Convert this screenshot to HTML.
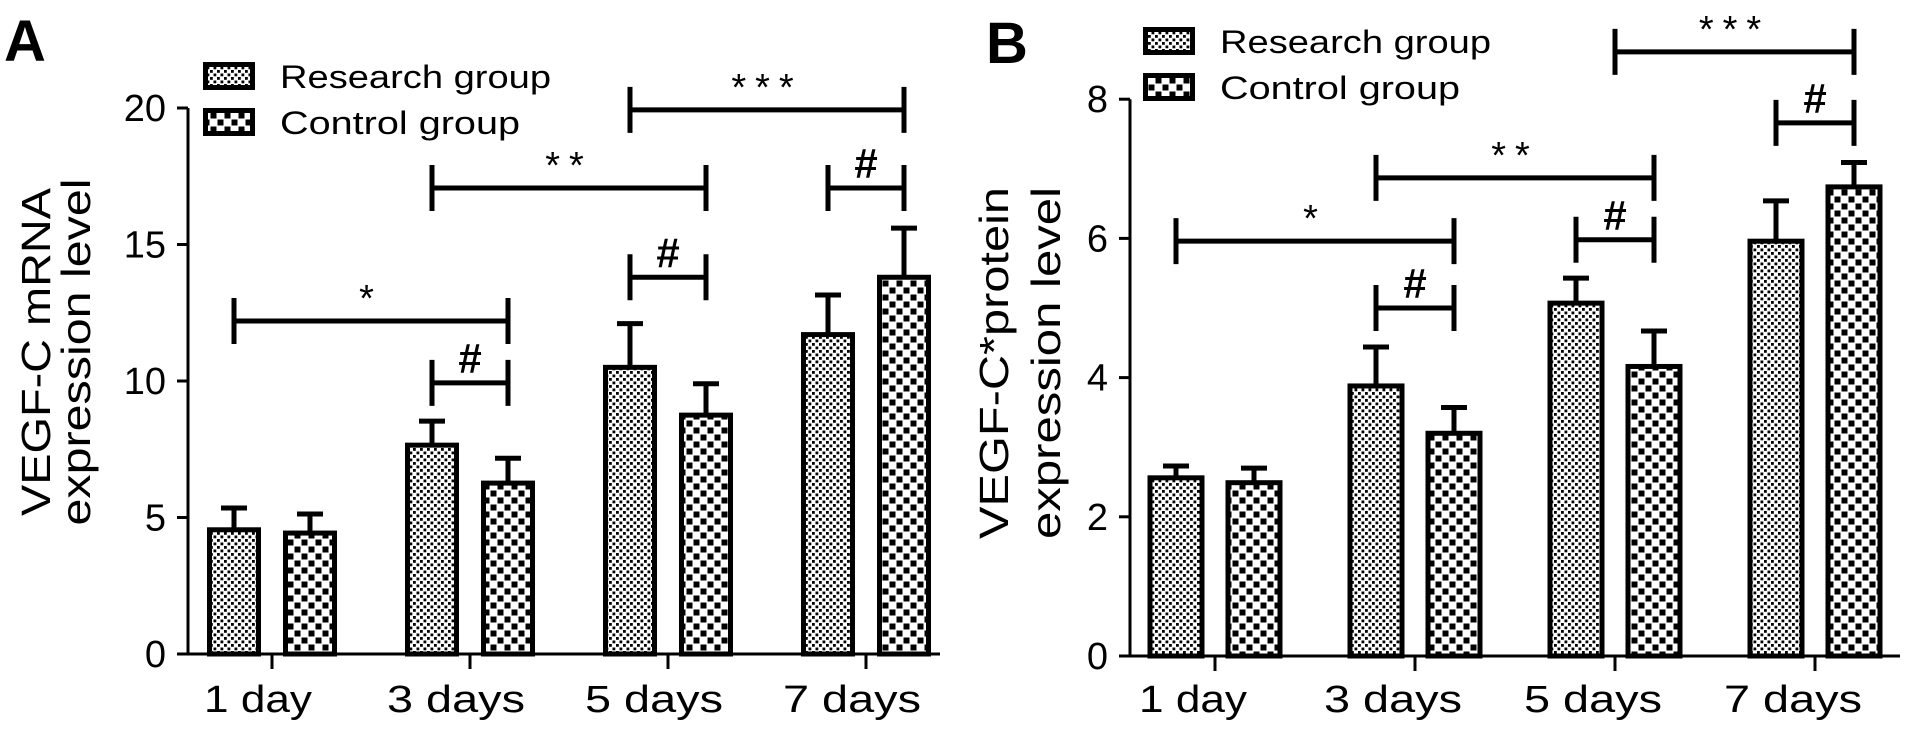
<!DOCTYPE html>
<html><head><meta charset="utf-8"><style>
html,body{margin:0;padding:0;background:#fff;}
svg{display:block;font-family:"Liberation Sans",Arial,sans-serif;}
</style></head><body>
<svg id="fig" width="1913" height="735" viewBox="0 0 1913 735">
<defs>
<pattern id="patR" width="7" height="7" patternUnits="userSpaceOnUse">
<rect width="7" height="7" fill="#fff"/><rect x="0" y="0" width="2.8" height="2.8" fill="#000"/><rect x="3.5" y="3.5" width="2.8" height="2.8" fill="#000"/>
</pattern>
<pattern id="patC" width="14" height="14" patternUnits="userSpaceOnUse">
<rect width="14" height="14" fill="#fff"/><rect x="0.5" y="0.5" width="6" height="6" fill="#000"/><rect x="7.5" y="7.5" width="6" height="6" fill="#000"/>
</pattern>
</defs>
<g id="panelA"></g>
<g id="panelB"></g>
</svg>
<script>
const categories = ["1 day","3 days","5 days","7 days"];
const researchA = [4.55, 7.65, 10.5, 11.7];
const researchAErr = [5.35, 8.53, 12.1, 13.15];
const controlA = [4.43, 6.26, 8.75, 13.8];
const controlAErr = [5.13, 7.17, 9.9, 15.6];
const ticksA = [0,5,10,15,20];
const researchB = [2.56, 3.88, 5.07, 5.96];
const researchBErr = [2.73, 4.44, 5.43, 6.54];
const controlB = [2.49, 3.2, 4.16, 6.74];
const controlBErr = [2.7, 3.57, 4.67, 7.09];
const ticksB = [0,2,4,6,8];
// brackets: [fromGroup, fromSeries(0=R,1=C,0.5=center), toGroup, toSeries, yValue, label]
const bracketsA = [[0,0,1,1,12.2,"*"],[1,0,1,1,9.93,"#"],[1,0,2,1,17.07,"**"],[2,0,2,1,13.8,"#"],[2,0,3,1,19.93,"***"],[3,0,3,1,17.07,"#"]];
const bracketsB = [[0,0,1,1,5.96,"*"],[1,0,1,1,5.0,"#"],[1,0,2,1,6.87,"**"],[2,0,2,1,5.98,"#"],[2,0.5,3,1,8.68,"***"],[3,0,3,1,7.66,"#"]];

const NS="http://www.w3.org/2000/svg";
function mk(parent,tag,attrs,text){const e=document.createElementNS(NS,tag);for(const k in attrs)e.setAttribute(k,attrs[k]);if(text!==undefined)e.textContent=text;parent.appendChild(e);return e;}

function drawPanel(g,cfg){
  const y=v=>cfg.y0-v*cfg.ppu;
  const gx=i=>cfg.x0+i*cfg.step;
  const bx=(i,s)=>gx(i)+(s-0.5)*2*cfg.off;
  let t=mk(g,'text',{x:cfg.letterX,y:cfg.letterY,'font-size':58,'font-weight':'bold'},cfg.letter);
  
  
  const yt=mk(g,'g',{});
  
  
  mk(yt,'text',{transform:`translate(${cfg.t1x},${cfg.tcy}) rotate(-90)`,'text-anchor':'middle','font-size':41,textLength:cfg.t1len,lengthAdjust:'spacingAndGlyphs'},cfg.title1);
  mk(yt,'text',{transform:`translate(${cfg.t2x},${cfg.tcy}) rotate(-90)`,'text-anchor':'middle','font-size':41,textLength:cfg.t2len,lengthAdjust:'spacingAndGlyphs'},cfg.title2);
  const series=[[cfg.r,cfg.rErr,'url(#patR)','research'],[cfg.c,cfg.cErr,'url(#patC)','control']];
  series.forEach((s,si)=>{
    s[0].forEach((v,i)=>{
      const cx=bx(i,si);
      const eb=mk(g,'g',{});
      
      
      mk(eb,'line',{x1:cx,x2:cx,y1:y(v),y2:y(s[1][i]),stroke:'#000','stroke-width':5});
      mk(eb,'line',{x1:cx-13,x2:cx+13,y1:y(s[1][i]),y2:y(s[1][i]),stroke:'#000','stroke-width':5});
      const r=mk(g,'rect',{x:cx-cfg.bw/2+2.5,y:y(v),width:cfg.bw-5,height:y(0)-y(v),fill:s[2],stroke:'#000','stroke-width':5});
      
      
    });
  });
  const ax=mk(g,'g',{});
  
  
  mk(ax,'line',{x1:cfg.ax,x2:cfg.ax,y1:y(cfg.ticks[cfg.ticks.length-1]),y2:y(0)+1,stroke:'#000','stroke-width':3});
  cfg.ticks.forEach(v=>{
    mk(ax,'line',{x1:cfg.ax-11,x2:cfg.ax,y1:y(v),y2:y(v),stroke:'#000','stroke-width':3});
    mk(ax,'text',{x:cfg.ax-22,y:y(v)+13,'text-anchor':'end','font-size':38},String(v));
  });
  const xa=mk(g,'g',{});
  
  
  mk(xa,'line',{x1:cfg.ax,x2:cfg.axEnd,y1:y(0),y2:y(0),stroke:'#000','stroke-width':3});
  categories.forEach((c,i)=>{
    mk(xa,'line',{x1:gx(i),x2:gx(i),y1:y(0),y2:y(0)+15,stroke:'#000','stroke-width':3});
    mk(xa,'text',{x:gx(i)-cfg.lblOff,y:712,'text-anchor':'middle','font-size':38,textLength:c.length>5?138:108,lengthAdjust:'spacingAndGlyphs'},c);
  });
  cfg.br.forEach((b,k)=>{
    const x1=bx(b[0],b[1]),x2=bx(b[2],b[3]),yy=y(b[4]);
    const bg=mk(g,'g',{});
    
    
    mk(bg,'line',{x1:x1,x2:x2,y1:yy,y2:yy,stroke:'#000','stroke-width':5});
    mk(bg,'line',{x1:x1,x2:x1,y1:yy-23,y2:yy+23,stroke:'#000','stroke-width':5});
    mk(bg,'line',{x1:x2,x2:x2,y1:yy-23,y2:yy+23,stroke:'#000','stroke-width':5});
    const isHash=b[5]==='#';
    mk(bg,'text',{x:(x1+x2)/2,y:isHash?yy-10:yy-10,'text-anchor':'middle','font-size':isHash?42:38,'font-weight':isHash?'bold':'normal','letter-spacing':isHash?0:9},b[5]);
  });
  const lg=mk(g,'g',{});
  
  
  [['Research group','url(#patR)',cfg.legY1],['Control group','url(#patC)',cfg.legY2]].forEach((L,i)=>{
    const e=mk(lg,'g',{});
    
    
    mk(e,'rect',{x:cfg.legX+2.5,y:L[2]+2.5,width:47,height:23,fill:L[1],stroke:'#000','stroke-width':5});
    mk(e,'text',{x:cfg.legX+77,y:L[2]+26,'font-size':32,textLength:i?cfg.legLen2:cfg.legLen1,lengthAdjust:'spacingAndGlyphs'},L[0]);
  });
}

drawPanel(document.getElementById('panelA'),{letter:'A',letterX:4,letterY:61,
  title1:'VEGF-C mRNA',title2:'expression level',t1x:50,t2x:90,tcy:352,t1len:328,t2len:347,
  r:researchA,rErr:researchAErr,c:controlA,cErr:controlAErr,ticks:ticksA,
  y0:654,ppu:27.3,x0:272,step:198,off:38,bw:54,ax:188,axEnd:940,lblOff:14,br:bracketsA,
  legX:203,legY1:62,legY2:108,legLen1:271,legLen2:240});
drawPanel(document.getElementById('panelB'),{letter:'B',letterX:986,letterY:63,
  title1:'VEGF-C*protein',title2:'expression level',t1x:1008,t2x:1060,tcy:363,t1len:352,t2len:352,
  r:researchB,rErr:researchBErr,c:controlB,cErr:controlBErr,ticks:ticksB,
  y0:656,ppu:69.6,x0:1215,step:200,off:39,bw:57,ax:1130,axEnd:1900,lblOff:22,br:bracketsB,
  legX:1143,legY1:27,legY2:73,legLen1:271,legLen2:240});
</script>
</body></html>
